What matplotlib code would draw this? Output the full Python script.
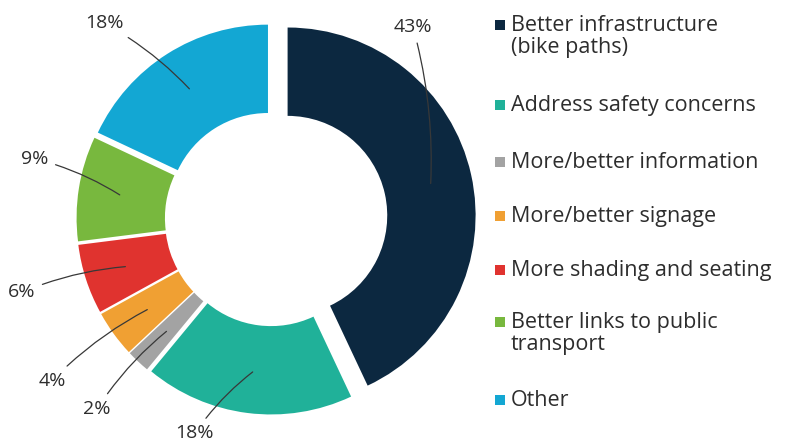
import numpy as np
import matplotlib.pyplot as plt

# Data
categories = ['Better infrastructure\n(bike paths)', 'Address safety concerns',
              'More/better information', 'More/better signage',
              'More shading and seating', 'Better links to public\ntransport', 'Other']
shares = [43, 18, 2, 4, 6, 9, 18]
pct_labels = ['43%', '18%', '2%', '4%', '6%', '9%', '18%']
colors = ['#0c2840', '#20b199', '#a3a3a3', '#f0a033', '#e0332f', '#78b83e', '#13a7d3']

# Layout (data units of the pie axes, radius 1 = outer edge)
explode = [0.085, 0.04, 0.04, 0.04, 0.04, 0.04, 0.04]
label_xy = [(0.75, 1.02), (-0.41, -1.14), (-0.93, -1.01), (-1.17, -0.86),
            (-1.33, -0.39), (-1.26, 0.32), (-0.89, 1.04)]
ring_width = 0.47
text_color = '#2d2d2d'
plt.rcParams['font.family'] = ['Open Sans', 'DejaVu Sans']

fig = plt.figure(figsize=(8.06, 4.44), dpi=100)
# pie axes: centre at (272, 219) px, 188 px per unit
W, H, cx, cy, scale = 806, 444, 272, 219, 188
ax = fig.add_axes([0, 0, 560 / W, 1])
ax.axis('off')

wedges, _ = ax.pie(shares, colors=colors, startangle=90, counterclock=False,
                   explode=explode, radius=1.0,
                   wedgeprops=dict(width=ring_width, linewidth=0))
ax.set_xlim(-cx / scale, (560 - cx) / scale)
ax.set_ylim(-(H - cy) / scale, cy / scale)
ax.set_aspect('auto')

# leader lines + percentage labels
for w, lab, xy, ex in zip(wedges, pct_labels, label_xy, explode):
    mid = np.deg2rad((w.theta1 + w.theta2) / 2)
    r = 0.78
    px = (r + ex) * np.cos(mid)
    py = (r + ex) * np.sin(mid)
    ax.annotate(lab, xy=(px, py), xytext=xy, ha='center', va='center',
                fontsize=14, fontweight='medium', color=text_color,
                arrowprops=dict(arrowstyle='-', color='#383838', lw=0.9,
                                shrinkA=3, shrinkB=0,
                                connectionstyle='arc3,rad=-0.08'))

# legend drawn by hand: squares + text
leg = fig.add_axes([0, 0, 1, 1])
leg.set_xlim(0, W)
leg.set_ylim(H, 0)
leg.axis('off')
legend_y = [25, 105, 162, 216, 270, 322, 400]
for c, name, y in zip(colors, categories, legend_y):
    leg.scatter([500], [y], marker='s', s=50, color=c, linewidths=0)
    leg.text(511, y - 10, name, ha='left', va='top', fontsize=15.5,
             fontweight='medium', color=text_color, linespacing=1.05)

fig.savefig('out.png', dpi=100)
